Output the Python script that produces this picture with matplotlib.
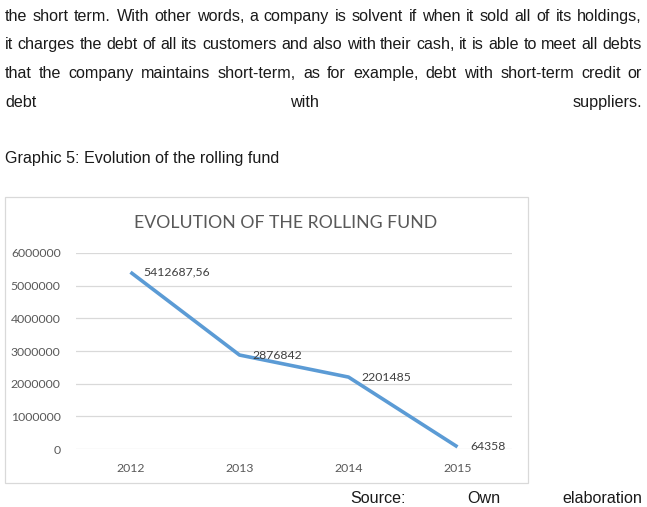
import matplotlib
matplotlib.use("Agg")
import matplotlib.pyplot as plt
from matplotlib.patches import Rectangle
from matplotlib import font_manager

# ---- data ----
years = ["2012", "2013", "2014", "2015"]
values = [5412687.56, 2876842, 2201485, 64358]
value_labels = ["5412687,56", "2876842", "2201485", "64358"]
y_ticks = [0, 1000000, 2000000, 3000000, 4000000, 5000000, 6000000]
chart_title = "EVOLUTION OF THE ROLLING FUND"

body_lines = [
    "the short term. With other words, a company is solvent if when it sold all of its holdings,",
    "it charges the debt of all its customers and also with their cash, it is able to meet all debts",
    "that the company maintains short-term, as for example, debt with short-term credit or",
    "debt with suppliers.",
]
caption = "Graphic 5: Evolution of the rolling fund"
source_words = ["Source:", "Own", "elaboration"]

W, H = 647, 507
fig = plt.figure(figsize=(W / 100, H / 100), dpi=100)
fig.patch.set_facecolor("white")
renderer = fig.canvas.get_renderer()

names = {f.name for f in font_manager.fontManager.ttflist}
BODY_FONT = "Liberation Sans Narrow" if "Liberation Sans Narrow" in names else "Liberation Sans"
TEXT_COLOR = "#1a1a1a"
CHART_FONT = "Lato"
GRAY = "#595959"


def px(x, y):
    return x / W, 1 - y / H


def word_width(word, size):
    t = fig.text(0, 0, word, fontsize=size, family=BODY_FONT)
    w = t.get_window_extent(renderer).width
    t.remove()
    return w


# choose body font size so that line 1 fills the width naturally
x0, x1 = 5, 642
size = 12.0
for _ in range(6):
    w = word_width(body_lines[0], size)
    size *= (x1 - x0) / w
size = min(size, 11.6)


def justify(line, baseline):
    words = line.split()
    widths = [word_width(wd, size) for wd in words]
    gap = (x1 - x0 - sum(widths)) / (len(words) - 1)
    x = x0
    for wd, ww in zip(words, widths):
        fig.text(*px(x, baseline), wd, fontsize=size, family=BODY_FONT,
                 color=TEXT_COLOR, va="baseline", ha="left")
        x += ww + gap


baselines = [20.7, 49.3, 78.0, 106.7]
for line, b in zip(body_lines, baselines):
    justify(line, b)

fig.text(*px(5, 163), caption, fontsize=size, family=BODY_FONT,
         color=TEXT_COLOR, va="baseline", ha="left")

src_x = [350, 467, 562]
for wd, sx in zip(source_words, src_x):
    fig.text(*px(sx, 503), wd, fontsize=size, family=BODY_FONT,
             color=TEXT_COLOR, va="baseline", ha="left")

# ---- chart frame ----
bx0, by0, bx1, by1 = 5, 197, 528, 483
fig.patches.append(Rectangle((bx0 / W, 1 - by1 / H), (bx1 - bx0) / W, (by1 - by0) / H,
                             transform=fig.transFigure, facecolor="none",
                             edgecolor="#D9D9D9", linewidth=0.9, zorder=-1))

# ---- chart axes ----
ax_l, ax_r, ax_t, ax_b = 76, 512, 253, 449
ax = fig.add_axes([ax_l / W, 1 - ax_b / H, (ax_r - ax_l) / W, (ax_b - ax_t) / H])
ax.set_facecolor("none")
xs = list(range(len(years)))
ax.plot(xs, values, color="#5B9BD5", linewidth=2.6, solid_capstyle="butt", zorder=3)
ax.set_xlim(-0.5, len(years) - 0.5)
ax.set_ylim(y_ticks[0], y_ticks[-1])
ax.set_yticks(y_ticks)
ax.set_yticklabels([str(v) for v in y_ticks])
ax.set_xticks(xs)
ax.set_xticklabels(years)
for s in ax.spines.values():
    s.set_visible(False)
ax.grid(axis="y", color="#D9D9D9", linewidth=0.9)
ax.set_axisbelow(True)
ax.tick_params(axis="both", length=0, colors=GRAY, labelsize=8.8)
ax.tick_params(axis="y", pad=11)
ax.tick_params(axis="x", pad=10)
for lab in ax.get_xticklabels() + ax.get_yticklabels():
    lab.set_family(CHART_FONT)

for x, v, lab in zip(xs, values, value_labels):
    ax.annotate(lab, (x, v), xytext=(9, 0), textcoords="offset points",
                ha="left", va="center", fontsize=8.8, color="#404040",
                family=CHART_FONT, zorder=4)

fig.text(*px(285.5, 223), chart_title, fontsize=12.7, family=CHART_FONT,
         color=GRAY, ha="center", va="center")

fig.savefig("out.png", dpi=100, facecolor="white")
